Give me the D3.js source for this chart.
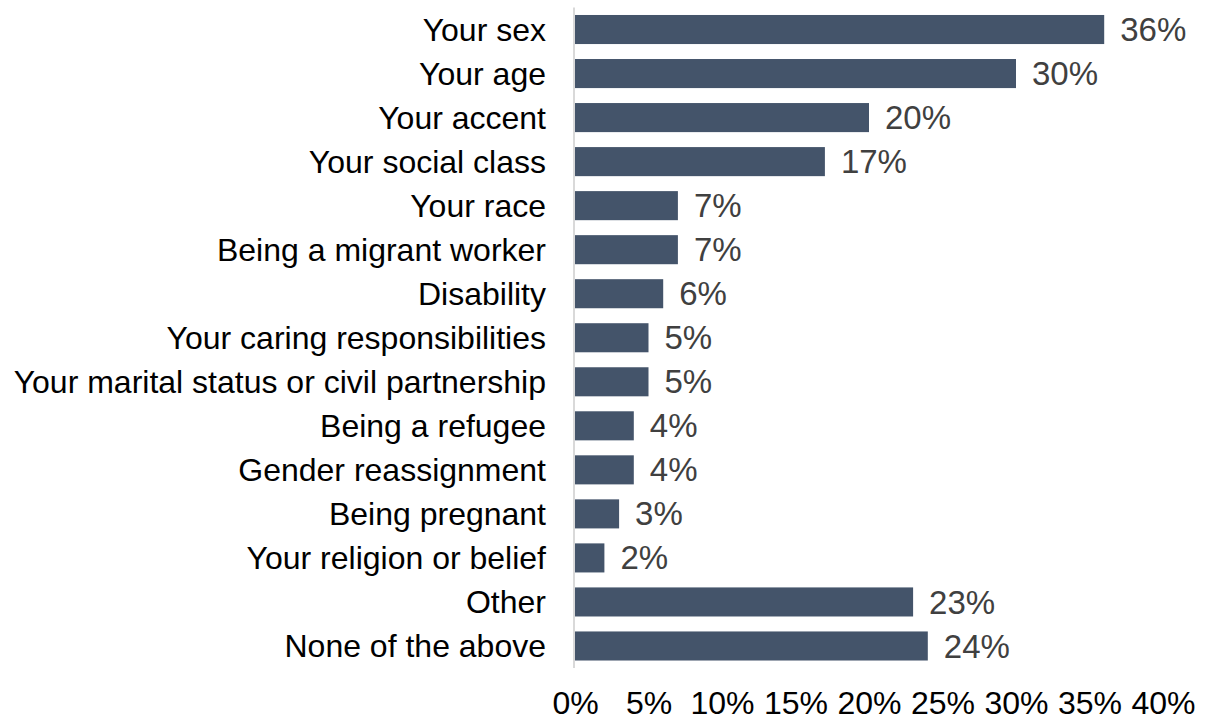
<!DOCTYPE html>
<html>
<head>
<meta charset="utf-8">
<script src="https://cdn.jsdelivr.net/npm/d3@7"></script>
<style>
  html, body { margin: 0; padding: 0; background: #fff; }
  svg { display: block; font-family: "Liberation Sans", Arial, sans-serif; }
</style>
</head>
<body>
<svg id="chart" width="1207" height="720"></svg>
<script>
// Survey categories and share of respondents (%)
const categories = [
  "Your sex", "Your age", "Your accent", "Your social class", "Your race",
  "Being a migrant worker", "Disability", "Your caring responsibilities",
  "Your marital status or civil partnership", "Being a refugee",
  "Gender reassignment", "Being pregnant", "Your religion or belief",
  "Other", "None of the above"
];
const values = [36, 30, 20, 17, 7, 7, 6, 5, 5, 4, 4, 3, 2, 23, 24];
const tickValues = [0, 5, 10, 15, 20, 25, 30, 35, 40];

const svg = d3.select("#chart");

const x = d3.scaleLinear().domain([0, 40]).range([575, 1163]);
const y = d3.scaleBand().domain(categories).range([7.5, 668])
  .paddingInner(0.34).paddingOuter(0.17);

// Bars
svg.append("g").selectAll("rect")
  .data(categories)
  .join("rect")
  .attr("x", x(0))
  .attr("y", d => y(d))
  .attr("width", (d, i) => x(values[i]) - x(0))
  .attr("height", y.bandwidth())
  .attr("fill", "#44546A");

// Vertical category axis line
svg.append("line")
  .attr("x1", 574).attr("x2", 574)
  .attr("y1", 7.5).attr("y2", 668)
  .attr("stroke", "#D9D9D9").attr("stroke-width", 2);

// Category labels
svg.append("g").selectAll("text")
  .data(categories)
  .join("text")
  .attr("x", 546)
  .attr("y", d => y(d) + y.bandwidth() / 2)
  .attr("dy", "0.35em")
  .attr("text-anchor", "end")
  .attr("font-size", 32)
  .attr("fill", "#000")
  .text(d => d);

// Value labels
svg.append("g").selectAll("text")
  .data(categories)
  .join("text")
  .attr("x", (d, i) => x(values[i]) + 16)
  .attr("y", d => y(d) + y.bandwidth() / 2)
  .attr("dy", "0.35em")
  .attr("font-size", 33)
  .attr("fill", "#404040")
  .text((d, i) => values[i] + "%");

// Percentage axis (labels only)
const xAxis = d3.axisBottom(x)
  .tickValues(tickValues)
  .tickSize(0)
  .tickPadding(0)
  .tickFormat(d => d + "%");
const gx = svg.append("g").attr("transform", "translate(0,714)").call(xAxis);
gx.select(".domain").remove();
gx.selectAll("text")
  .attr("dy", 0)
  .attr("font-size", 32)
  .attr("font-family", "Liberation Sans, Arial, sans-serif")
  .attr("fill", "#000");
</script>
</body>
</html>
